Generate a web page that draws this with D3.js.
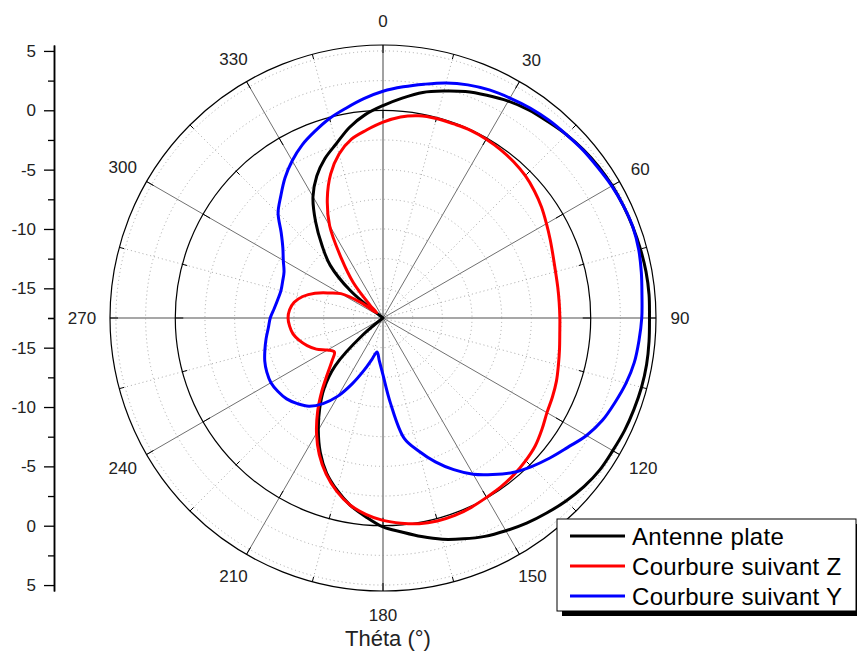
<!DOCTYPE html>
<html><head><meta charset="utf-8">
<script src="https://cdn.jsdelivr.net/npm/d3@7"></script>
<style>
body{margin:0;background:#fff;}
svg{display:block;font-family:"Liberation Sans",Arial,sans-serif;}
</style>
</head><body>
<svg id="chart" width="857" height="653"></svg>
<script>
// ---- data ----
const angles = [0,5,10,15,20,25,30,35,40,45,50,55,
  60,65,70,75,80,85,90,95,100,105,110,115,
  120,125,130,135,140,145,150,155,160,165,170,175,
  180,185,190,195,200,205,210,215,220,225,230,235,
  240,245,250,255,260,265,270,275,280,285,290,295,
  300,305,310,315,320,325,330,335,340,345,350,355];

const antennePlate = [0.4,1.1,1.8,2.3,2.8,3.2,3.6,3.9,4.1,4.35,4.55,4.7,
  4.8,4.85,4.9,4.95,5.0,5.0,4.95,5.0,5.05,5.05,5.0,4.95,
  4.85,4.8,4.6,4.3,3.95,3.6,3.2,2.8,2.3,1.8,1.2,0.6,
  0.1,-0.7,-1.5,-2.5,-3.6,-5.0,-6.6,-8.2,-9.8,-11.8,-15.3,-19,
  -20,-20,-20,-20,-20,-20,-20,-20,-20,-20,-20,-20,
  -20,-19,-13.9,-11.2,-9.5,-7.6,-5.7,-4.3,-3.2,-2.3,-1.2,-0.3];

const courbureZ = [-1.0,-0.5,-0.2,-0.1,-0.1,-0.05,-0.1,-0.2,-0.35,-0.55,-0.85,-1.2,
  -1.6,-1.95,-2.25,-2.45,-2.55,-2.6,-2.6,-2.55,-2.4,-2.2,-1.95,-1.75,
  -1.55,-1.15,-0.75,-0.5,-0.3,-0.15,-0.05,0.1,0.2,0.2,0.1,-0.15,
  -0.45,-0.9,-1.5,-2.4,-3.5,-4.8,-6.3,-7.9,-9.5,-10.9,-11.9,-12.5,
  -12.1,-11.3,-10.7,-10.2,-9.8,-9.6,-9.5,-9.6,-9.9,-10.5,-11.4,-12.5,
  -13.4,-15.2,-16.8,-15.9,-13.6,-11.4,-8.5,-6.4,-4.6,-3.2,-2.2,-1.6];

const courbureY = [1.6,2.05,2.5,3.0,3.4,3.7,3.9,4.1,4.25,4.35,4.5,4.6,
  4.75,4.85,4.9,4.8,4.6,4.4,4.3,4.15,4.0,3.7,3.3,2.9,
  2.3,1.5,0.85,0.2,-0.5,-1.4,-2.3,-3.4,-4.6,-5.9,-7.2,-10.3,
  -12.7,-13.9,-14.6,-13.9,-12.8,-11.4,-9.9,-8.7,-7.8,-7.3,-6.9,-6.7,
  -6.6,-6.7,-6.9,-7.2,-7.5,-7.8,-8.0,-8.3,-8.5,-8.6,-8.5,-8.3,
  -7.8,-7.2,-6.3,-5.0,-4.1,-3.1,-2.2,-1.4,-0.75,-0.1,0.45,1.05];

const seriesNames = ["Antenne plate", "Courbure suivant Z", "Courbure suivant Y"];
const seriesValues = [antennePlate, courbureZ, courbureY];
const seriesColors = ["#000000", "#ff0000", "#0000ff"];

const angleTickLabels = [0,30,60,90,120,150,180,210,240,270,300,330];
const minorSpokeAngles = [15,45,75,105,135,165,195,225,255,285,315,345];
const radialTicks = [-15,-10,-5,0,5];
const radialMinorTicks = [-17.5,-12.5,-7.5,-2.5,2.5];
const gridLevels = [-15,-12.5,-10,-7.5,-5,-2.5,2.5,5];
const radialDomain = [-17.5, 5.5];
const axisTitle = "Théta (°)";

// ---- layout ----
const cx = 383, cy = 318, R = 273;
const svg = d3.select("#chart");
const rad = a => a * Math.PI / 180;
const r = d3.scaleLinear().domain(radialDomain).range([0, R]).clamp(true);
const g = svg.append("g").attr("transform", `translate(${cx},${cy})`);

// dotted grid circles
g.selectAll("circle.grid").data(gridLevels).join("circle")
  .attr("class", "grid").attr("r", d => r(d))
  .attr("fill", "none").attr("stroke", "#a8a8a8").attr("stroke-width", 1)
  .attr("stroke-dasharray", "1,3");

// dotted spokes
g.selectAll("line.mspoke").data(minorSpokeAngles).join("line")
  .attr("class", "mspoke")
  .attr("x1", 0).attr("y1", 0)
  .attr("x2", d => R * Math.sin(rad(d))).attr("y2", d => -R * Math.cos(rad(d)))
  .attr("stroke", "#a8a8a8").attr("stroke-width", 1).attr("stroke-dasharray", "1,3");

// solid spokes
g.selectAll("line.spoke").data(angleTickLabels).join("line")
  .attr("class", "spoke")
  .attr("x1", 0).attr("y1", 0)
  .attr("x2", d => R * Math.sin(rad(d))).attr("y2", d => -R * Math.cos(rad(d)))
  .attr("stroke", d => d % 90 === 0 ? "#8a8a8a" : "#707070")
  .attr("stroke-width", d => d % 90 === 0 ? 1.6 : 1);

// 0 dB circle and outer circle
[r(0), R].forEach(rr => {
  g.append("circle").attr("r", rr).attr("fill", "none")
    .attr("stroke", "#000").attr("stroke-width", 1.2);
  const tickAngs = angleTickLabels.concat(minorSpokeAngles);
  g.selectAll(null).data(tickAngs).join("line")
    .attr("x1", d => rr * Math.sin(rad(d))).attr("y1", d => -rr * Math.cos(rad(d)))
    .attr("x2", d => (rr - (d % 30 === 0 ? 8 : 5)) * Math.sin(rad(d)))
    .attr("y2", d => -(rr - (d % 30 === 0 ? 8 : 5)) * Math.cos(rad(d)))
    .attr("stroke", "#000").attr("stroke-width", 1);
});

// angle labels
g.selectAll("text.alab").data(angleTickLabels).join("text")
  .attr("class", "alab")
  .attr("x", d => { const s = String(d).length; const rl = 297 + (s - 2) * 4 * Math.abs(Math.sin(rad(d))); return rl * Math.sin(rad(d)); })
  .attr("y", d => { const s = String(d).length; const rl = 297 + (s - 2) * 4 * Math.abs(Math.sin(rad(d))); return -rl * Math.cos(rad(d)); })
  .attr("text-anchor", "middle").attr("dominant-baseline", "central")
  .attr("font-size", 17).attr("fill", "#222")
  .text(d => d);

// curves
const line = d3.lineRadial()
  .angle((d, i) => rad(angles[i]))
  .radius(d => r(d))
  .curve(d3.curveCatmullRomClosed.alpha(0.5));

seriesValues.forEach((vals, k) => {
  g.append("path").attr("d", line(vals))
    .attr("fill", "none").attr("stroke", seriesColors[k])
    .attr("stroke-width", 3).attr("stroke-linejoin", "round");
});

// left radial axis (mirrored)
const axX = 54;
const yTop = d3.scaleLinear().domain(radialDomain).range([cy, cy - R]);
const yBot = d3.scaleLinear().domain(radialDomain).range([cy, cy + R]);
[yTop, yBot].forEach(s => {
  const minor = svg.append("g").attr("transform", `translate(${axX},0)`)
    .call(d3.axisLeft(s).tickValues(radialMinorTicks).tickSize(6).tickSizeOuter(0).tickFormat(""));
  const major = svg.append("g").attr("transform", `translate(${axX},0)`)
    .call(d3.axisLeft(s).tickValues(radialTicks).tickSize(10).tickSizeOuter(0).tickPadding(8).tickFormat(d => String(d)));
  [minor, major].forEach(ax => {
    ax.select(".domain").attr("stroke", "#000").attr("stroke-width", 1.5);
    ax.selectAll(".tick line").attr("stroke", "#000").attr("stroke-width", 1.3);
    ax.selectAll("text").attr("font-size", 17).attr("fill", "#222")
      .attr("font-family", "'Liberation Sans', Arial, sans-serif");
  });
});

// axis title
svg.append("text").attr("x", 388).attr("y", 646)
  .attr("text-anchor", "middle").attr("font-size", 22).attr("fill", "#222")
  .text(axisTitle);

// legend
const lg = svg.append("g");
const lx = 557, ly = 519, lw = 299, lh = 92;
lg.append("rect").attr("x", lx + 5).attr("y", ly + 5).attr("width", lw).attr("height", lh).attr("fill", "#000");
lg.append("rect").attr("x", lx).attr("y", ly).attr("width", lw).attr("height", lh)
  .attr("fill", "#fff").attr("stroke", "#000").attr("stroke-width", 1);
seriesNames.forEach((name, k) => {
  const yy = ly + 17 + k * 30;
  lg.append("line").attr("x1", lx + 13).attr("x2", lx + 68).attr("y1", yy).attr("y2", yy)
    .attr("stroke", seriesColors[k]).attr("stroke-width", 3);
  lg.append("text").attr("x", lx + 75).attr("y", yy + 8.5)
    .attr("font-size", 24).attr("letter-spacing", 0.3).attr("fill", "#000").text(name);
});
</script>
</body></html>
